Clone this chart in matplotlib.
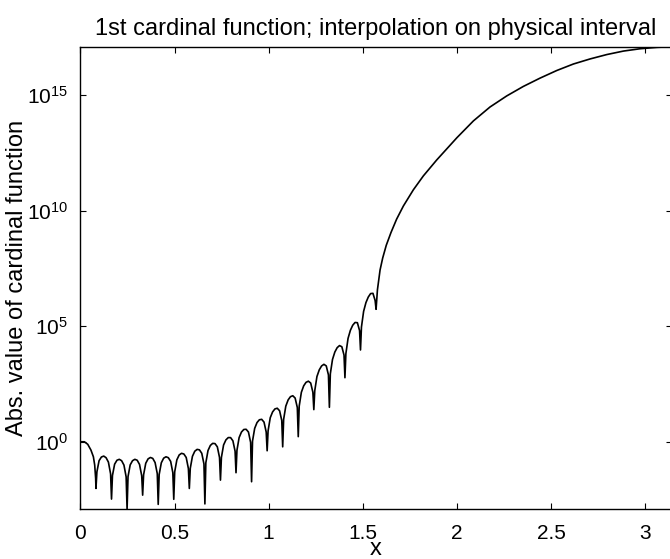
import numpy as np
import matplotlib
matplotlib.use("Agg")
import matplotlib.pyplot as plt
from matplotlib.ticker import FixedLocator, NullLocator, LogFormatterMathtext

plt.rcParams["font.family"] = ["Liberation Sans", "DejaVu Sans"]
plt.rcParams["mathtext.fontset"] = "custom"
plt.rcParams["mathtext.rm"] = "Liberation Sans"
plt.rcParams["mathtext.it"] = "Liberation Sans:italic"
plt.rcParams["mathtext.bf"] = "Liberation Sans:bold"

# |C_1(x)| traced along x; all y values are stored as log10 of the magnitude

# first half-lobe, from the node at x = 0 down to the first zero
start_x = [0.0, 0.021, 0.039, 0.056, 0.069, 0.076, 0.081]
start_logy = [0.0, 0.0, -0.11, -0.36, -0.65, -1.01, -1.58]

# the zeros (interpolation nodes) and how deep the sampled curve dips there
cusp_x = [0.0827, 0.1653, 0.2480, 0.3307, 0.4134, 0.4960, 0.5787, 0.6614,
          0.7441, 0.8267, 0.9094, 0.9921, 1.0747, 1.1574, 1.2401, 1.3228,
          1.4054, 1.4881, 1.5708]
cusp_logy = [-2.02, -2.48, -2.91, -2.31, -2.71, -2.49, -2.02, -2.69, -1.66,
             -1.34, -1.73, -0.39, -0.22, 0.22, 1.39, 1.49, 2.77, 3.97, 5.73]

# arches between neighbouring zeros
lobe_x = [
    [0.0877, 0.0992, 0.1116, 0.1240, 0.1364, 0.1488, 0.1604],
    [0.1703, 0.1818, 0.1942, 0.2066, 0.2190, 0.2314, 0.2430],
    [0.2530, 0.2645, 0.2769, 0.2893, 0.3017, 0.3141, 0.3257],
    [0.3357, 0.3472, 0.3596, 0.3720, 0.3844, 0.3968, 0.4084],
    [0.4184, 0.4299, 0.4423, 0.4547, 0.4671, 0.4795, 0.4911],
    [0.5010, 0.5125, 0.5249, 0.5373, 0.5497, 0.5621, 0.5737],
    [0.5837, 0.5952, 0.6076, 0.6200, 0.6324, 0.6448, 0.6564],
    [0.6664, 0.6779, 0.6903, 0.7027, 0.7151, 0.7275, 0.7391],
    [0.7491, 0.7606, 0.7730, 0.7854, 0.7978, 0.8102, 0.8218],
    [0.8317, 0.8432, 0.8556, 0.8680, 0.8804, 0.8928, 0.9044],
    [0.9144, 0.9259, 0.9383, 0.9507, 0.9631, 0.9755, 0.9871],
    [0.9971, 1.0086, 1.0210, 1.0334, 1.0458, 1.0582, 1.0698],
    [1.0797, 1.0912, 1.1036, 1.1160, 1.1284, 1.1408, 1.1524],
    [1.1624, 1.1739, 1.1863, 1.1987, 1.2111, 1.2235, 1.2351],
    [1.2451, 1.2566, 1.2690, 1.2814, 1.2938, 1.3062, 1.3178],
    [1.3278, 1.3393, 1.3517, 1.3641, 1.3765, 1.3889, 1.4005],
    [1.4104, 1.4219, 1.4343, 1.4467, 1.4591, 1.4715, 1.4831],
    [1.4931, 1.5046, 1.5170, 1.5294, 1.5418, 1.5542, 1.5658],
]
lobe_logy = [
    [-1.30, -0.82, -0.66, -0.62, -0.69, -0.88, -1.39],
    [-1.46, -0.97, -0.80, -0.76, -0.82, -1.01, -1.52],
    [-1.51, -1.00, -0.82, -0.76, -0.80, -0.98, -1.47],
    [-1.43, -0.93, -0.74, -0.68, -0.72, -0.90, -1.38],
    [-1.42, -0.91, -0.71, -0.65, -0.69, -0.85, -1.34],
    [-1.30, -0.78, -0.57, -0.50, -0.53, -0.68, -1.16],
    [-1.15, -0.63, -0.41, -0.33, -0.35, -0.50, -0.96],
    [-0.91, -0.38, -0.16, -0.07, -0.08, -0.22, -0.68],
    [-0.68, -0.14, 0.08, 0.18, 0.18, 0.04, -0.41],
    [-0.37, 0.18, 0.42, 0.53, 0.54, 0.42, -0.03],
    [0.03, 0.58, 0.83, 0.95, 0.97, 0.85, 0.42],
    [0.47, 1.04, 1.29, 1.42, 1.45, 1.34, 0.92],
    [0.97, 1.54, 1.81, 1.95, 1.99, 1.89, 1.48],
    [1.54, 2.14, 2.42, 2.57, 2.62, 2.54, 2.14],
    [2.21, 2.82, 3.11, 3.28, 3.35, 3.28, 2.89],
    [2.94, 3.56, 3.88, 4.07, 4.16, 4.11, 3.75],
    [3.81, 4.47, 4.82, 5.04, 5.16, 5.15, 4.81],
    [4.96, 5.64, 6.02, 6.26, 6.41, 6.42, 6.11],
]

# beyond the last node the function grows without further zeros
tail_x = [1.578, 1.592, 1.606, 1.625, 1.650, 1.680, 1.716, 1.769, 1.822,
          1.893, 2.000, 2.088, 2.176, 2.265, 2.353, 2.442, 2.531, 2.619,
          2.708, 2.797, 2.885, 2.973, 3.062, 3.1416]
tail_logy = [6.57, 7.43, 7.95, 8.50, 9.05, 9.63, 10.20, 10.90, 11.50,
             12.19, 13.15, 13.88, 14.48, 14.96, 15.37, 15.73, 16.06, 16.34,
             16.56, 16.75, 16.90, 17.00, 17.06, 17.09]

xtick_vals = [0, 0.5, 1, 1.5, 2, 2.5, 3]
xtick_text = ["0", "0.5", "1", "1.5", "2", "2.5", "3"]
ytick_vals = [1e0, 1e5, 1e10, 1e15]

# stitch the pieces together in x order
xs = list(start_x)
ys = list(start_logy)
for k in range(len(lobe_x)):
    xs.append(cusp_x[k])
    ys.append(cusp_logy[k])
    xs.extend(lobe_x[k])
    ys.extend(lobe_logy[k])
xs.append(cusp_x[-1])
ys.append(cusp_logy[-1])
xs.extend(tail_x)
ys.extend(tail_logy)
xs = np.array(xs)
ys = 10.0 ** np.array(ys)

fig = plt.figure(figsize=(6.7, 5.59), dpi=100)
ax = fig.add_axes([0.120, 0.0894, 0.8826, 0.8271])

ax.semilogy(xs, ys, color="black", linewidth=1.2)

ax.set_xlim(0, np.pi)
ax.set_ylim(10 ** -2.91, 10 ** 17.09)

ax.set_xticks(xtick_vals)
ax.set_xticklabels(xtick_text)
ax.yaxis.set_major_locator(FixedLocator(ytick_vals))
ax.yaxis.set_major_formatter(LogFormatterMathtext())
ax.yaxis.set_minor_locator(NullLocator())
ax.xaxis.set_minor_locator(NullLocator())

ax.tick_params(which="both", direction="in", top=True, right=True,
               length=4, width=0.8, labelsize=15)
ax.tick_params(axis="x", pad=11)
ax.tick_params(axis="y", pad=9)
for s in ax.spines.values():
    s.set_linewidth(1.0)

ax.set_title("1st cardinal function; interpolation on physical interval",
             fontsize=17, pad=8.4)
ax.set_xlabel("x", fontsize=17, labelpad=-3.5)
ax.set_ylabel("Abs. value of cardinal function", fontsize=17, labelpad=-1)

fig.savefig("out.png", dpi=100)
